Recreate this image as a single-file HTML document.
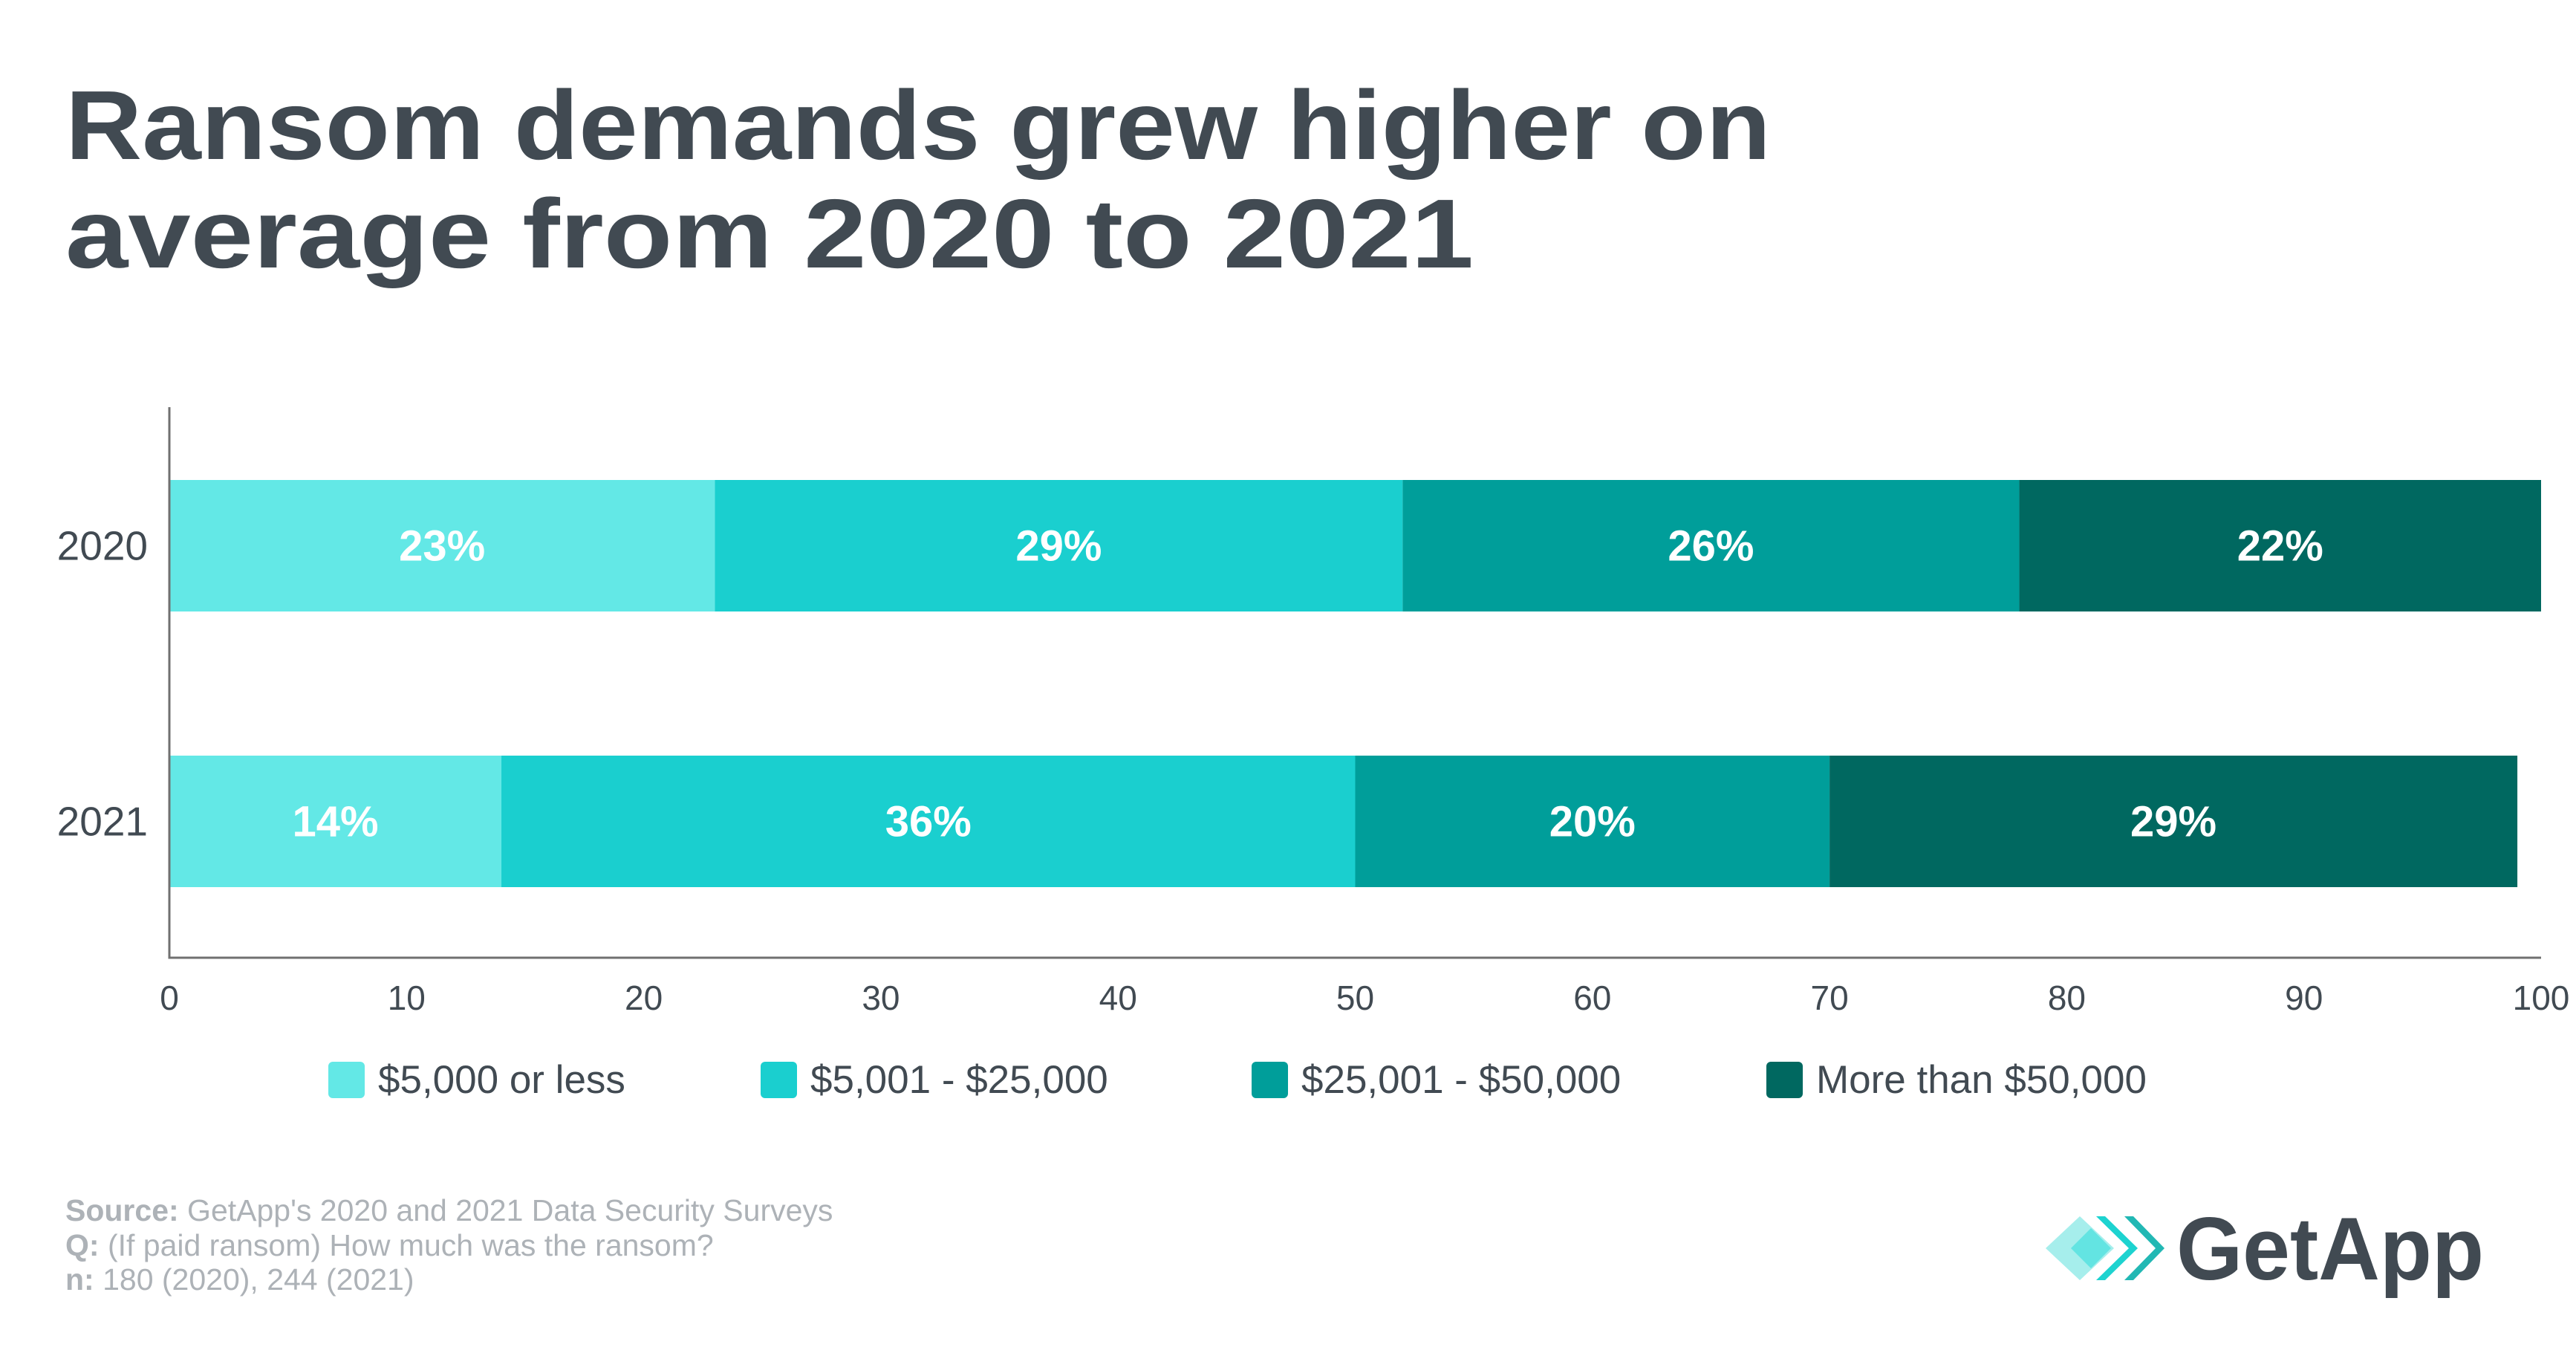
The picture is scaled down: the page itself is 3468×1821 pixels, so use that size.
<!DOCTYPE html>
<html><head><meta charset="utf-8"><style>
html,body{margin:0;padding:0;background:#fff;}
svg{display:block;font-family:"Liberation Sans",sans-serif;}
</style></head><body>
<svg id="chart" width="3468" height="1821" viewBox="0 0 3468 1821" xmlns="http://www.w3.org/2000/svg">
<g fill="#414a52" font-weight="bold" font-size="132">
<text x="88" y="214" textLength="2296" lengthAdjust="spacingAndGlyphs">Ransom demands grew higher on</text>
<text x="88" y="360" textLength="1896" lengthAdjust="spacingAndGlyphs">average from 2020 to 2021</text>
</g>
<g id="plot"></g>
<g id="legend"></g>
<g fill="#adb2b7" font-size="41">
<text x="88" y="1643"><tspan font-weight="bold">Source:</tspan> GetApp's 2020 and 2021 Data Security Surveys</text>
<text x="88" y="1690"><tspan font-weight="bold">Q:</tspan> (If paid ransom) How much was the ransom?</text>
<text x="88" y="1736"><tspan font-weight="bold">n:</tspan> 180 (2020), 244 (2021)</text>
</g>
<g>
<polygon points="2754,1680 2800,1637 2846,1680 2800,1723" fill="#a6eeec"/>
<polygon points="2788,1680 2815,1653 2842,1680 2815,1707" fill="#63e4e2"/>
<polygon points="2822,1637 2834,1637 2878,1680 2834,1723 2822,1723 2866,1680" fill="#1dd3d0"/>
<polygon points="2860,1637 2872,1637 2914,1680 2872,1723 2860,1723 2902,1680" fill="#22b8b4"/>
<text x="2930" y="1722" font-size="120" font-weight="bold" fill="#414a52" textLength="414" lengthAdjust="spacingAndGlyphs">GetApp</text>
</g>
</svg>
<script>
const years = ["2020","2021"];
const seriesNames = ["$5,000 or less","$5,001 - $25,000","$25,001 - $50,000","More than $50,000"];
const s1 = [23,14];
const s2 = [29,36];
const s3 = [26,20];
const s4 = [22,29];
const xTicks = [0,10,20,30,40,50,60,70,80,90,100];
const colors = ["#63e8e6","#1acfcf","#009e9a","#006860"];
const NS="http://www.w3.org/2000/svg";
const X0=228,X1=3421,YT=548,YB=1289;
const xs=v=>X0+(v/100)*(X1-X0);
const barTop=[646,1017],barH=177;
const plot=document.getElementById('plot');
function mk(tag,attrs,parent){const e=document.createElementNS(NS,tag);for(const k in attrs)e.setAttribute(k,attrs[k]);parent.appendChild(e);return e;}
const series=[s1,s2,s3,s4];
years.forEach((y,i)=>{
  let acc=0;
  series.forEach((s,j)=>{
    const v=s[i];
    const r=mk('rect',{x:xs(acc),y:barTop[i],width:xs(acc+v)-xs(acc),height:barH,fill:colors[j]},plot);
    
    
    const t=mk('text',{x:(xs(acc)+xs(acc+v))/2,y:barTop[i]+barH/2+20,'text-anchor':'middle','font-size':'58','font-weight':'bold',fill:'#fff'},plot);
    t.textContent=v+'%';
    
    
    acc+=v;
  });
  const yl=mk('text',{x:199,y:barTop[i]+barH/2+19,'text-anchor':'end','font-size':'55',fill:'#414a52'},plot);
  yl.textContent=y;
  
  
});
const ax=mk('path',{d:`M${X0},${YT}V${YB}H${X1}`,fill:'none',stroke:'#707070','stroke-width':'3'},plot);


xTicks.forEach(v=>{
  const t=mk('text',{x:xs(v),y:1359,'text-anchor':'middle','font-size':'46',fill:'#414a52'},plot);
  t.textContent=v;
  
  
});
const lg=document.getElementById('legend');
const lgX=[442,1024,1685,2378];
seriesNames.forEach((n,j)=>{
  const r=mk('rect',{x:lgX[j],y:1429,width:49,height:49,rx:6,fill:colors[j]},lg);
  
  
  const t=mk('text',{x:lgX[j]+67,y:1471,'font-size':'53',fill:'#414a52'},lg);
  t.textContent=n;
  
  
});
</script>
</body></html>
